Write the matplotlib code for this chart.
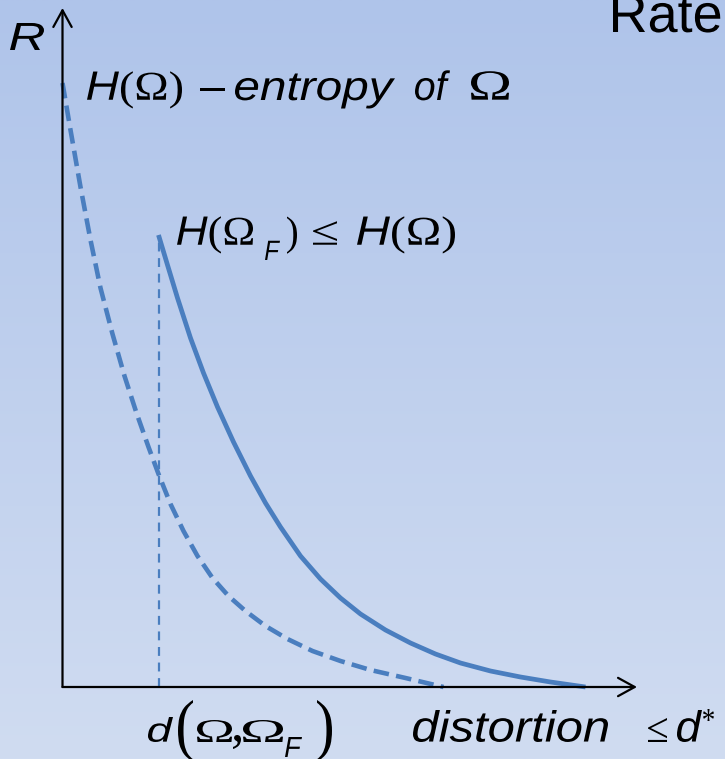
import numpy as np
import matplotlib
matplotlib.use("Agg")
import matplotlib.pyplot as plt
from matplotlib.patches import FancyArrowPatch, PathPatch
from matplotlib.textpath import TextPath
from matplotlib.font_manager import FontProperties
from matplotlib.transforms import Affine2D

# rate-distortion curve of the full source Omega (dashed)
dist_full = [0.00, 0.08, 0.18, 0.28, 0.38, 0.50, 0.62, 0.74, 0.86, 0.96, 1.08, 1.21,
             1.35, 1.50, 1.66, 1.83, 2.03, 2.25, 2.50, 2.78, 3.08, 3.43, 3.81]
rate_full = [6.04, 5.57, 5.00, 4.47, 3.99, 3.53, 3.11, 2.74, 2.40, 2.13, 1.83, 1.56,
             1.31, 1.09, 0.91, 0.76, 0.61, 0.48, 0.36, 0.26, 0.17, 0.09, 0.00]

# rate-distortion curve of the reduced source Omega_F (solid)
dist_feat = [0.96, 1.05, 1.15, 1.28, 1.41, 1.55, 1.71, 1.88, 2.03, 2.18, 2.38,
             2.58, 2.78, 2.98, 3.23, 3.48, 3.73, 3.98, 4.28, 4.58, 4.88, 5.23]
rate_feat = [4.52, 4.22, 3.89, 3.49, 3.14, 2.80, 2.45, 2.11, 1.84, 1.60, 1.31,
             1.08, 0.89, 0.73, 0.57, 0.44, 0.33, 0.24, 0.16, 0.10, 0.05, 0.00]

# offset distortion d(Omega, Omega_F)
d_offset = 0.96

W, H = 725, 759
BLUE = "#4a7ebf"

plt.rcParams["mathtext.fontset"] = "custom"
plt.rcParams["mathtext.rm"] = "Liberation Serif"
plt.rcParams["mathtext.it"] = "Liberation Sans:italic"
plt.rcParams["font.family"] = ["Liberation Sans", "DejaVu Sans"]

SANS = FontProperties(family="Liberation Sans")
SANS_IT = FontProperties(family="Liberation Sans", style="italic")
SERIF = FontProperties(family="Liberation Serif")

fig = plt.figure(figsize=(W / 100, H / 100), dpi=100)

# slide background gradient
bg = fig.add_axes([0, 0, 1, 1], zorder=-1)
top = np.array([0xaf, 0xc4, 0xea]) / 255
bot = np.array([0xd0, 0xdc, 0xf1]) / 255
t = np.linspace(0, 1, 256)[:, None]
grad = top[None, :] * (1 - t) + bot[None, :] * t
bg.imshow(grad[:, None, :], aspect="auto", extent=[0, 1, 0, 1])
bg.set_axis_off()

ax = fig.add_axes([0, 0, 1, 1])
ax.patch.set_alpha(0)
ax.set_xlim(-0.625, 6.625)
ax.set_ylim(-0.72, 6.87)
ax.set_axis_off()

# axes with open arrow heads
for end in [(5.745, 0), (0, 6.79)]:
    ax.add_patch(FancyArrowPatch((0, 0), end, arrowstyle="->,head_length=0.6,head_width=0.33",
                                 mutation_scale=20, lw=1.6, color="black", zorder=3,
                                 shrinkA=0, shrinkB=0))

ax.plot(dist_full, rate_full, color=BLUE, lw=3.3, ls=(0, (3.4, 1.6)),
        dash_capstyle="butt", solid_joinstyle="round", zorder=2)
ax.plot(dist_feat, rate_feat, color=BLUE, lw=3.4, solid_capstyle="butt",
        solid_joinstyle="round", zorder=2)
ax.vlines(d_offset, 0, rate_feat[0], color=BLUE, lw=1.6, ls=(0, (4, 3)), zorder=1)


def put(s, x0, x1, base, em, prop):
    """Text as a path: left ink edge at x0, baseline at base (pixels from top);
    stretched horizontally so the ink ends at x1 when x1 is given."""
    path = TextPath((0, 0), s, size=em, prop=prop)
    ext = path.get_extents()
    sx = 1.0 if x1 is None else (x1 - x0) / ext.width
    tr = Affine2D().translate(-ext.x0, 0).scale(sx, 1).translate(x0, H - base)
    fig.add_artist(PathPatch(path, transform=tr, fc="black", lw=0))


def fit(s, x0, x1, y0, y1, prop):
    """Text as a path scaled to fill the ink box (x0, y0)-(x1, y1)."""
    path = TextPath((0, 0), s, size=50, prop=prop)
    ext = path.get_extents()
    tr = (Affine2D().translate(-ext.x0, -ext.y0)
          .scale((x1 - x0) / ext.width, (y1 - y0) / ext.height)
          .translate(x0, H - y1))
    fig.add_artist(PathPatch(path, transform=tr, fc="black", lw=0))


# axis name and slide title
fit("R", 10, 44, 23, 50, SANS_IT)
put("Rate", 613, None, 32, 54, SANS)

# entropy of the full source
put(r"$H(\Omega)$", 87, 182, 100, 41, SANS)
put("–", 200, 225, 100, 41, SANS)
put("entropy", 235, 395, 100, 41, SANS_IT)
put("of", 415, 450, 100, 41, SANS_IT)
put(r"$\Omega$", 471, 509, 100, 43, SANS)

# entropy of the reduced source
put(r"$H(\Omega$", 177, 253, 245, 41, SANS)
put("F", 265, 280, 260, 28, SANS_IT)
put(")", 287, 297, 245, 41, SERIF)
put(r"$\leq$", 313, 337, 245, 41, SANS)
put(r"$H(\Omega)$", 357, 455, 245, 41, SANS)

# distortion offset d(Omega, Omega_F)
fit("d", 148, 173, 717, 742, SANS_IT)
fit("(", 178, 193, 700, 762, SERIF)
fit("Ω", 197, 232, 720, 742, SERIF)
fit(",", 233, 241, 735, 749, SERIF)
fit("Ω", 243, 283, 720, 742, SERIF)
fit("F", 285, 302, 737, 757, SANS_IT)
fit(")", 317, 332, 700, 762, SERIF)

# distortion axis label
fit("distortion", 413, 608, 710, 742, SANS_IT)
fit("≤", 648, 667, 718, 742, SERIF)
fit("d", 677, 702, 710, 742, SANS_IT)
fit("*", 703, 714, 709, 721, SERIF)

fig.savefig("out.png", dpi=100)
